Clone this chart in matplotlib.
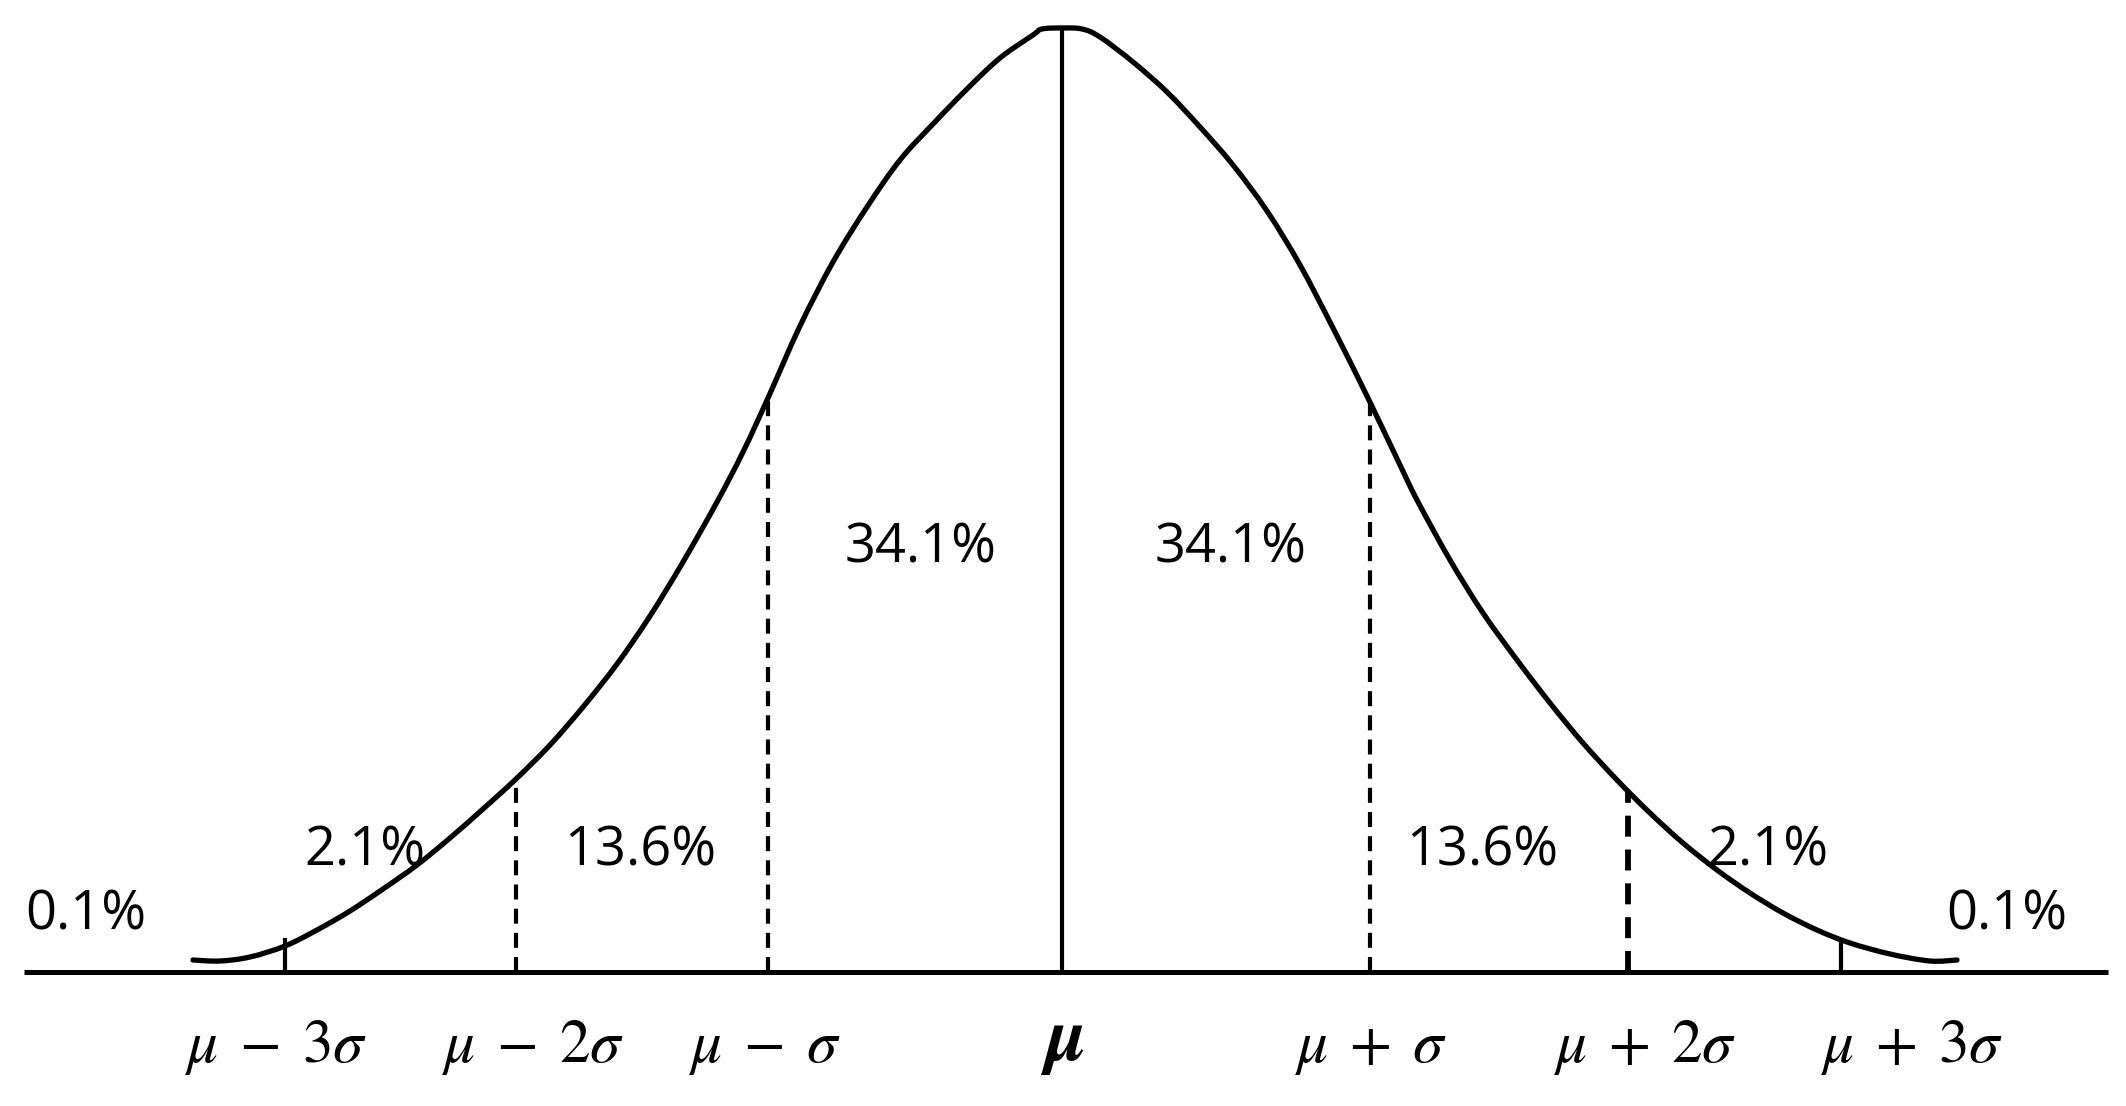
import numpy as np
import matplotlib.pyplot as plt
from matplotlib.path import Path
from matplotlib.patches import PathPatch

plt.rcParams['font.family'] = ['Open Sans', 'DejaVu Sans']
plt.rcParams['mathtext.fontset'] = 'stix'

# bell curve (x along the axis, h = height above the axis)
curve_x = [193, 220, 250, 285, 317, 350, 383, 417, 450, 483, 516, 550, 583, 617,
           650, 683, 717, 743, 768, 800, 833, 867, 900, 933, 967, 1000, 1033, 1042,
           1062, 1082, 1100, 1133, 1167, 1200, 1233, 1267, 1300, 1333, 1367, 1400,
           1417, 1450, 1483, 1517, 1550, 1583, 1617, 1650, 1683, 1717, 1750, 1783,
           1817, 1850, 1890, 1930, 1957]
curve_h = [12, 11, 15, 26, 42, 61, 83, 107, 134, 163, 193, 227, 265, 308,
           356, 410, 470, 520, 574, 646, 710, 765, 812, 848, 883, 914, 937, 943,
           944, 943, 935, 910, 880, 845, 807, 761, 707, 644, 576, 507,
           472, 412, 359, 312, 269, 229, 192, 159, 129, 102, 79, 59,
           42, 29, 18, 11, 12]

# positions of mu and the sigma marks on the axis
mu_x = 1062
sigma_x = [285, 516, 768, 1370, 1628, 1841]
sigma_labels = [r'$\mu\;-\;3\sigma$', r'$\mu\;-\;2\sigma$', r'$\mu\;-\;\sigma$',
                r'$\mu\;+\;\sigma$', r'$\mu\;+\;2\sigma$', r'$\mu\;+\;3\sigma$']
label_x = [276, 533, 764, 1370, 1645, 1912]

pct_labels = ['0.1%', '2.1%', '13.6%', '34.1%', '34.1%', '13.6%', '2.1%', '0.1%']
pct_x = [86, 365, 640, 921, 1231, 1482, 1768, 2007]
pct_h = [57, 121, 121, 424, 424, 121, 121, 57]


def smooth_path(xs, ys):
    # catmull-rom through the read points, drawn as bezier segments
    p = np.column_stack([xs, ys]).astype(float)
    p = np.vstack([p[0], p, p[-1]])
    verts = [p[1]]
    codes = [Path.MOVETO]
    for i in range(1, len(p) - 2):
        c1 = p[i] + (p[i + 1] - p[i - 1]) / 6
        c2 = p[i + 1] - (p[i + 2] - p[i]) / 6
        verts += [c1, c2, p[i + 1]]
        codes += [Path.CURVE4] * 3
    return Path(verts, codes)


fig = plt.figure(figsize=(21.26, 11.06), dpi=100)
ax = fig.add_axes([0, 0, 1, 1])
ax.set_xlim(0, 2126)
ax.set_ylim(-134, 972)
ax.axis('off')

# axis line
ax.plot([24, 2108], [0, 0], color='black', lw=3.6, solid_capstyle='butt')

# curve
ax.add_patch(PathPatch(smooth_path(curve_x, curve_h), fill=False, edgecolor='black',
                       lw=3.8, joinstyle='round', capstyle='round'))

# mean line
ax.plot([mu_x, mu_x], [0, np.interp(mu_x, curve_x, curve_h)], color='black', lw=3.0)

# dashed sigma lines, short ticks at 3 sigma
for i, sx in enumerate(sigma_x):
    top = np.interp(sx, curve_x, curve_h)
    if i in (0, 5):
        ax.plot([sx, sx], [0, 32], color='black', lw=3.0)
    else:
        lw = 4.2 if i == 4 else 3.0
        ax.plot([sx, sx], [0, top], color='black', lw=lw, linestyle=(0, (3.6, 2.2)))

for t, x, h in zip(pct_labels, pct_x, pct_h):
    ax.text(x, h, t, fontsize=39, ha='center', va='center', color='black')

for t, x in zip(sigma_labels, label_x):
    ax.text(x, -90, t, fontsize=44, ha='center', va='baseline', color='black')
ax.text(mu_x, -88, r'$\boldsymbol{\mu}$', fontsize=54, ha='center', va='baseline', color='black')

fig.savefig('out.png', dpi=100, facecolor='white')
